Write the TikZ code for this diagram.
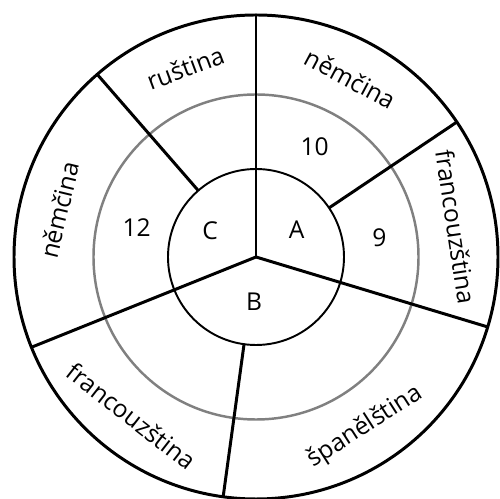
\documentclass[tikz,border=0pt]{standalone}
\usepackage{fontspec}
\setmainfont{Open Sans}
\usetikzlibrary{positioning}

\begin{document}
\begin{tikzpicture}[
  x=0.02cm, y=0.02cm,
  rim/.style={line width=1.7pt},
  mid/.style={line width=1.4pt, draw=black!50},
  core/.style={line width=1.1pt},
  spoke/.style={line width=1.7pt},
  lang/.style={font=\fontsize{14}{16}\selectfont, inner sep=0pt},
  num/.style={font=\fontsize{14}{16}\selectfont, inner sep=0pt}
]
  \useasboundingbox (-256,-242) rectangle (244,257);
  \coordinate (O) at (0,0);
  % rings
  \draw[rim] (O) circle (242);
  \draw[mid] (O) circle (162.5);
  \draw[core] (O) circle (88);
  % spokes from the centre
  \foreach \a/\n in {90/up, -16.8/right, -158.1/left}
    \draw[spoke] (O) -- (\a:242) coordinate (\n);
  % spokes from the inner circle
  \foreach \a/\n in {131/ul, 33.9/ur, -97.8/dn}
    \draw[spoke] (\a:88) coordinate (\n0) -- (\a:242) coordinate (\n);
  % outer labels
  \node[lang, rotate=20.5]  (rus)  at (110.5:202) {ruština};
  \node[lang, rotate=-28]   (nem1) at (62:202)    {němčina};
  \node[lang, rotate=-81.5] (fra1) at (8.5:202)   {francouzština};
  \node[lang, rotate=76.5]  (nem2) at (166.5:202) {němčina};
  \node[lang, rotate=-38]   (fra2) at (232:202)   {francouzština};
  \node[lang, rotate=32.7]  (spa)  at (-57.3:202) {španělština};
  % numbers
  \node[num] (n10) at (62:125)  {10};
  \node[num] (n12) at (166:123) {12};
  \node[num] (n9)  at (9:125)   {9};
  % groups
  \node[num] (A) at (34:49)   {A};
  \node[num] (C) at (150:53)  {C};
  \node[num] (B) at (-92.5:45) {B};
\end{tikzpicture}
\end{document}
